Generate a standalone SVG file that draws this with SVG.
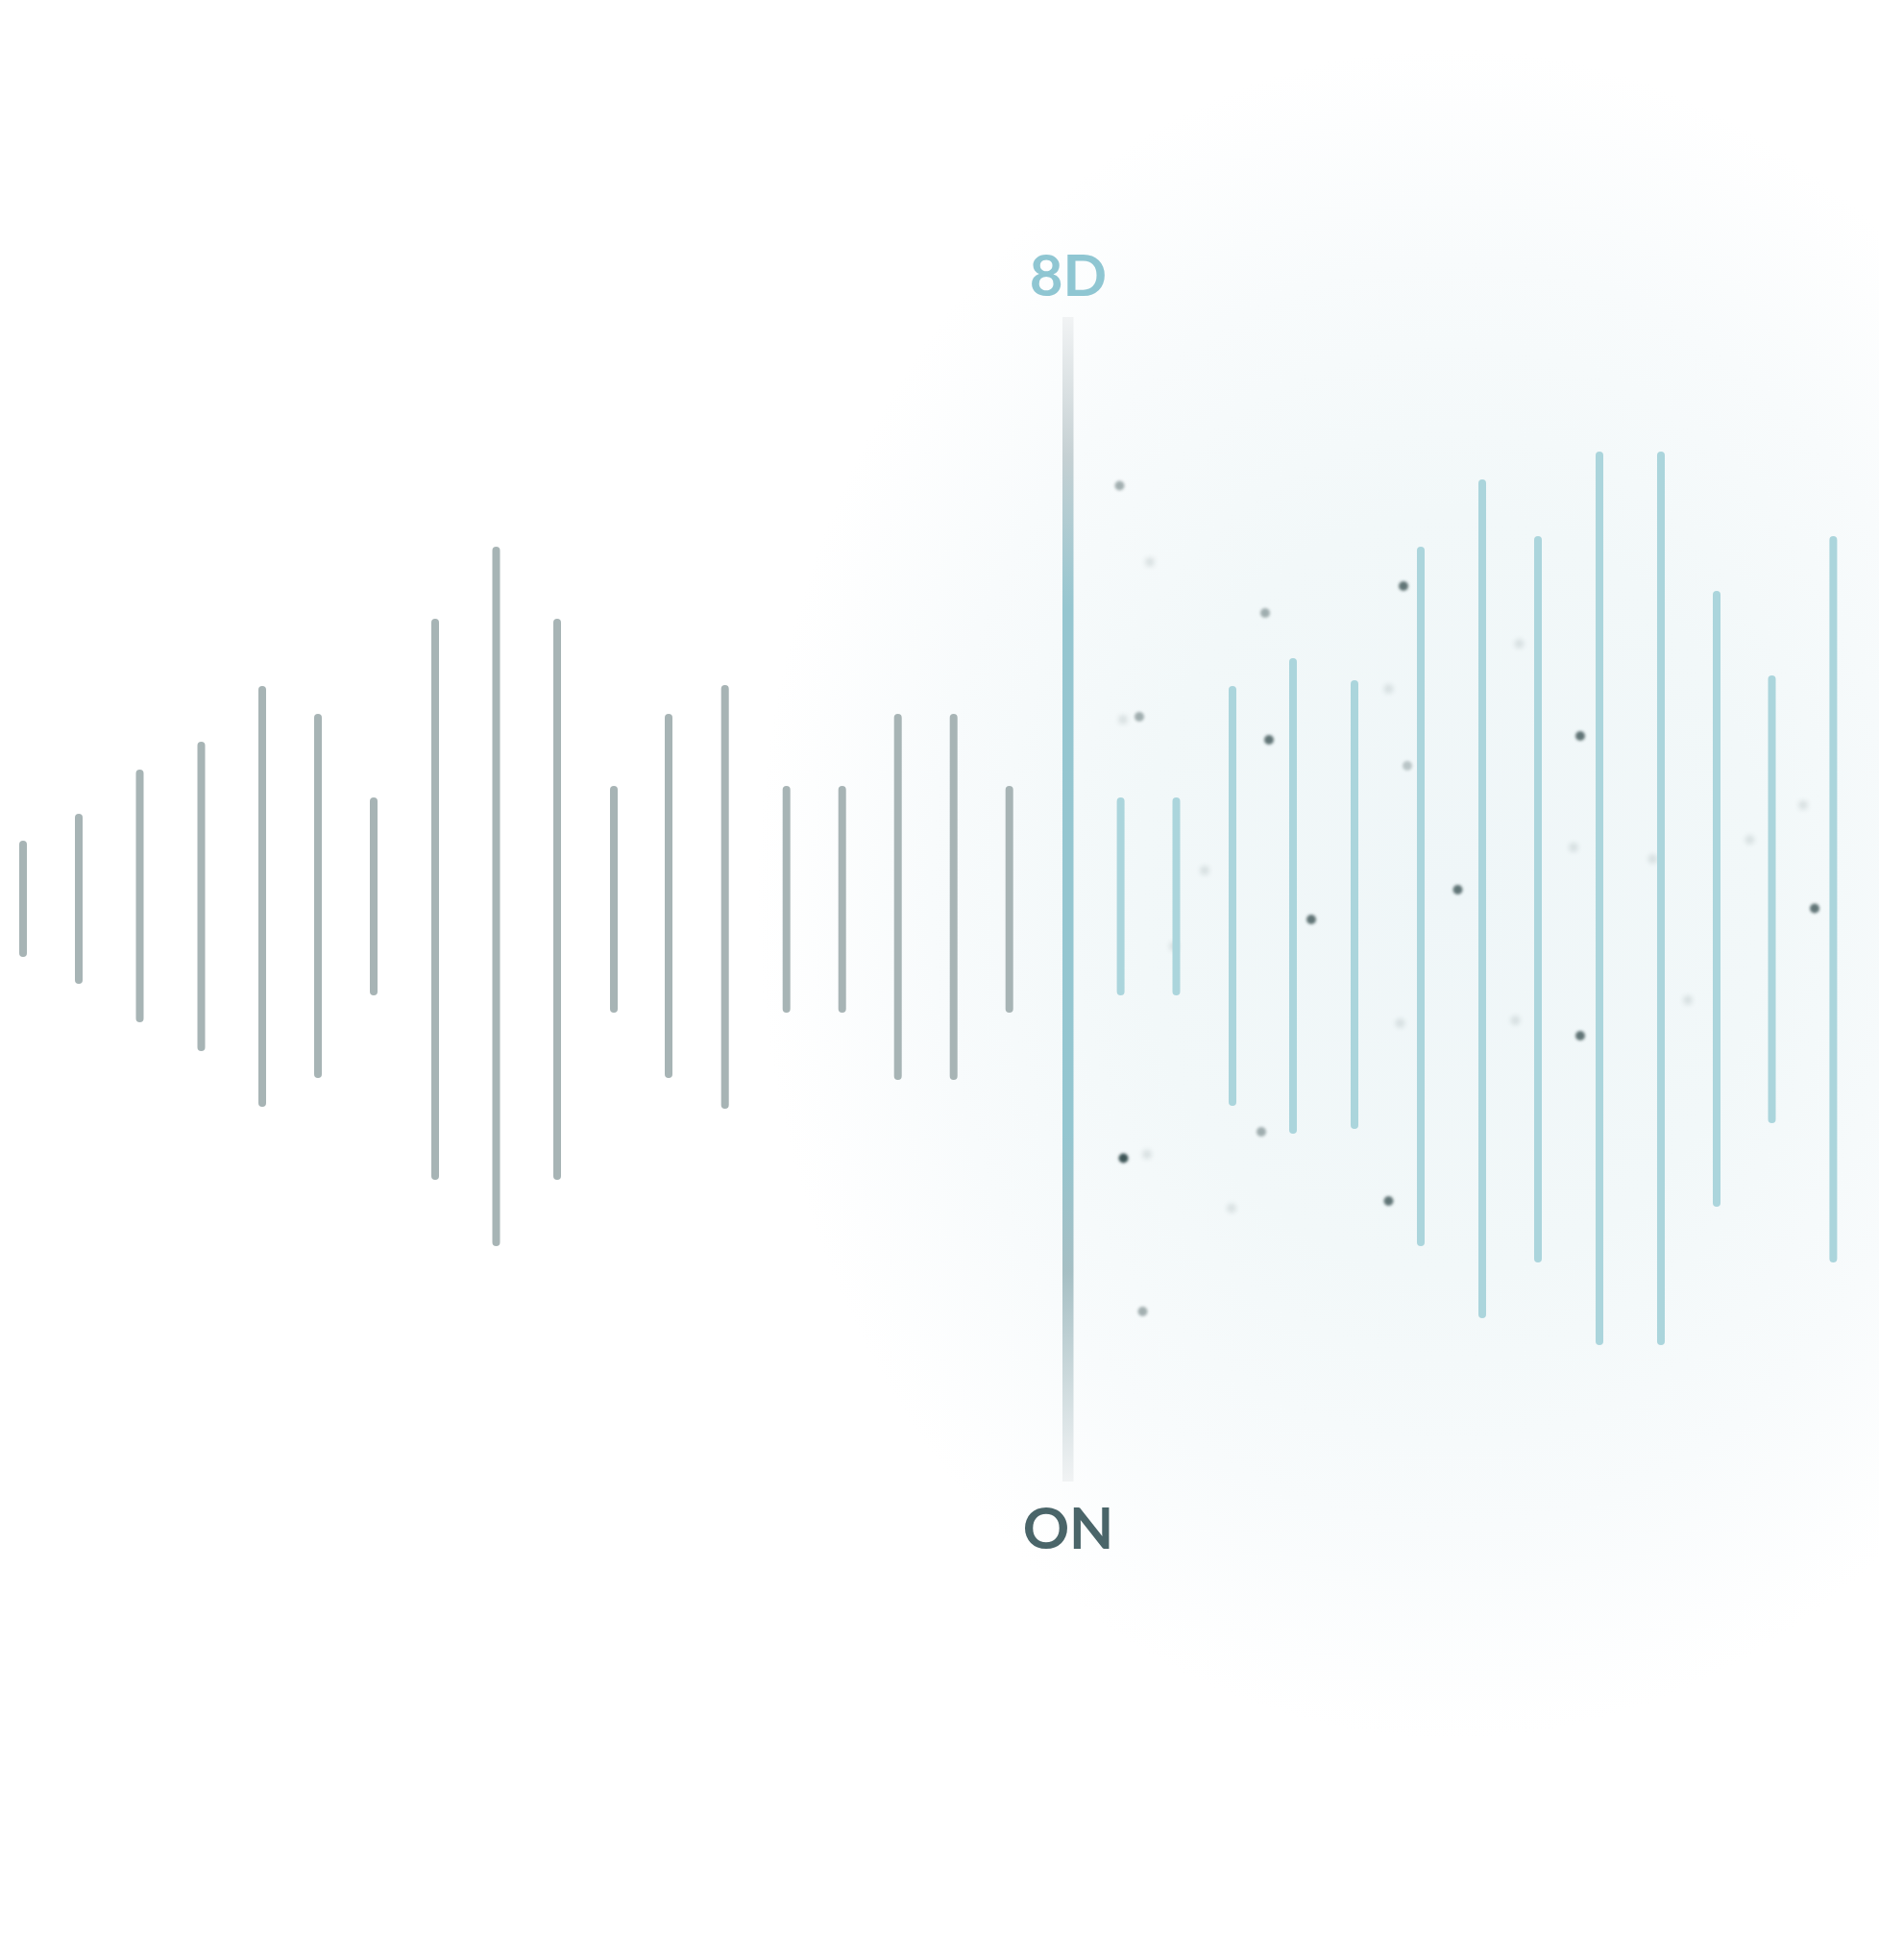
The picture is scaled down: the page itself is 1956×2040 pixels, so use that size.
<svg xmlns="http://www.w3.org/2000/svg" width="1956" height="2040" viewBox="0 0 1956 2040">
  <style>
    .gray { stroke: #a7b4b5; stroke-width: 8; stroke-linecap: round; fill: none; }
    .teal { stroke: #abd5dc; stroke-width: 8; stroke-linecap: round; fill: none; }
    .dark { fill: #3e5457; filter: url(#blurS); }
    .mid { fill: #3e5457; opacity: 0.45; filter: url(#blurM); }
    .faint { fill: #3e5457; opacity: 0.14; filter: url(#blurL); }
    .label { font-family: Lato, "Liberation Sans", sans-serif; font-weight: 700; font-size: 60px; text-anchor: middle; }
  </style>
  <defs>
    <radialGradient id="glow" cx="1510" cy="930" r="880" gradientUnits="userSpaceOnUse" gradientTransform="translate(1510 930) scale(0.82 1) translate(-1510 -930)">
      <stop offset="0" stop-color="#eff6f8"/>
      <stop offset="0.45" stop-color="#f2f8f9"/>
      <stop offset="0.75" stop-color="#f8fbfc"/>
      <stop offset="1" stop-color="#ffffff"/>
    </radialGradient>
    <linearGradient id="axis" x1="0" y1="330" x2="0" y2="1542" gradientUnits="userSpaceOnUse">
      <stop offset="0" stop-color="#f1f3f4"/>
      <stop offset="0.12" stop-color="#c5d0d3"/>
      <stop offset="0.25" stop-color="#96c6d0"/>
      <stop offset="0.7" stop-color="#94c6d0"/>
      <stop offset="0.82" stop-color="#a6bfc4"/>
      <stop offset="1" stop-color="#f1f3f4"/>
    </linearGradient>
    <filter id="blurS" x="-100%" y="-100%" width="300%" height="300%"><feGaussianBlur stdDeviation="1.4"/></filter>
    <filter id="blurM" x="-100%" y="-100%" width="300%" height="300%"><feGaussianBlur stdDeviation="1.8"/></filter>
    <filter id="blurL" x="-100%" y="-100%" width="300%" height="300%"><feGaussianBlur stdDeviation="2.4"/></filter>
  </defs>

  <rect width="1956" height="2040" fill="#ffffff"/>
  <g id="background-glow">
    <rect x="0" y="0" width="1956" height="2040" fill="url(#glow)"/>
  </g>

  <g id="waveform-left">
    <line class="gray" x1="24" y1="879" x2="24" y2="992"/>
    <line class="gray" x1="82" y1="851" x2="82" y2="1020"/>
    <line class="gray" x1="145.5" y1="805" x2="145.5" y2="1060"/>
    <line class="gray" x1="209.5" y1="776" x2="209.5" y2="1090"/>
    <line class="gray" x1="273" y1="718" x2="273" y2="1148"/>
    <line class="gray" x1="331" y1="747" x2="331" y2="1118"/>
    <line class="gray" x1="389" y1="834" x2="389" y2="1032"/>
    <line class="gray" x1="453" y1="648" x2="453" y2="1224"/>
    <line class="gray" x1="516.5" y1="573" x2="516.5" y2="1293"/>
    <line class="gray" x1="580" y1="648" x2="580" y2="1224"/>
    <line class="gray" x1="639" y1="822" x2="639" y2="1050"/>
    <line class="gray" x1="696" y1="747" x2="696" y2="1118"/>
    <line class="gray" x1="754.7" y1="717" x2="754.7" y2="1150"/>
    <line class="gray" x1="818.7" y1="822" x2="818.7" y2="1050"/>
    <line class="gray" x1="876.7" y1="822" x2="876.7" y2="1050"/>
    <line class="gray" x1="934.7" y1="747" x2="934.7" y2="1120"/>
    <line class="gray" x1="992.7" y1="747" x2="992.7" y2="1120"/>
    <line class="gray" x1="1050.7" y1="822" x2="1050.7" y2="1050"/>
  </g>

  <g id="dots">
    <circle class="faint" cx="1197" cy="585" r="5"/>
    <circle class="faint" cx="1169" cy="749" r="5"/>
    <circle class="faint" cx="1445.5" cy="717" r="5"/>
    <circle class="faint" cx="1581.5" cy="670" r="5"/>
    <circle class="faint" cx="1254" cy="906" r="5"/>
    <circle class="faint" cx="1222" cy="985" r="5"/>
    <circle class="faint" cx="1638" cy="882" r="5"/>
    <circle class="faint" cx="1720.5" cy="894" r="5"/>
    <circle class="faint" cx="1821.5" cy="874" r="5"/>
    <circle class="faint" cx="1877" cy="838" r="5"/>
    <circle class="faint" cx="1457.5" cy="1065" r="5"/>
    <circle class="faint" cx="1577.5" cy="1062" r="5"/>
    <circle class="faint" cx="1757" cy="1041" r="5"/>
    <circle class="faint" cx="1194" cy="1201.5" r="5"/>
    <circle class="faint" cx="1282" cy="1257.5" r="5"/>

    <circle class="mid" cx="1165.5" cy="505.5" r="5"/>
    <circle class="mid" cx="1317" cy="638" r="5"/>
    <circle class="mid" cx="1186" cy="746" r="5"/>
    <circle class="mid" cx="1465" cy="797" r="5" style="opacity:0.3"/>
    <circle class="mid" cx="1313" cy="1178" r="5"/>
    <circle class="mid" cx="1189.5" cy="1365" r="5"/>

    <circle class="dark" cx="1461" cy="610" r="5" style="opacity:0.8"/>
    <circle class="dark" cx="1321" cy="770" r="5" style="opacity:0.8"/>
    <circle class="dark" cx="1645" cy="766" r="5" style="opacity:0.8"/>
    <circle class="dark" cx="1365" cy="957" r="5" style="opacity:0.8"/>
    <circle class="dark" cx="1517.5" cy="926" r="5" style="opacity:0.8"/>
    <circle class="dark" cx="1889" cy="945.5" r="5" style="opacity:0.8"/>
    <circle class="dark" cx="1645" cy="1078" r="5" style="opacity:0.8"/>
    <circle class="dark" cx="1169.5" cy="1205.5" r="5"/>
    <circle class="dark" cx="1445.5" cy="1250" r="5" style="opacity:0.8"/>
  </g>

  <g id="waveform-right">
    <line class="teal" x1="1166.6" y1="834" x2="1166.6" y2="1032"/>
    <line class="teal" x1="1224.5" y1="834" x2="1224.5" y2="1032"/>
    <line class="teal" x1="1283" y1="718" x2="1283" y2="1147"/>
    <line class="teal" x1="1346" y1="689" x2="1346" y2="1176"/>
    <line class="teal" x1="1410" y1="712" x2="1410" y2="1171"/>
    <line class="teal" x1="1479" y1="573" x2="1479" y2="1293"/>
    <line class="teal" x1="1543" y1="503" x2="1543" y2="1368"/>
    <line class="teal" x1="1601" y1="562" x2="1601" y2="1310"/>
    <line class="teal" x1="1665" y1="474" x2="1665" y2="1396"/>
    <line class="teal" x1="1729" y1="474" x2="1729" y2="1396"/>
    <line class="teal" x1="1787" y1="619" x2="1787" y2="1252"/>
    <line class="teal" x1="1844.5" y1="707" x2="1844.5" y2="1165"/>
    <line class="teal" x1="1908.4" y1="562" x2="1908.4" y2="1310"/>
  </g>

  <g id="center-axis">
    <rect x="1106" y="330" width="11.5" height="1212" fill="url(#axis)"/>
  </g>

  <g id="label-8d">
    <text class="label" x="1112" y="308" fill="#8fc6d2">8D</text>
  </g>
  <g id="label-on">
    <text class="label" x="1112" y="1612" fill="#4a6569">ON</text>
  </g>
</svg>
